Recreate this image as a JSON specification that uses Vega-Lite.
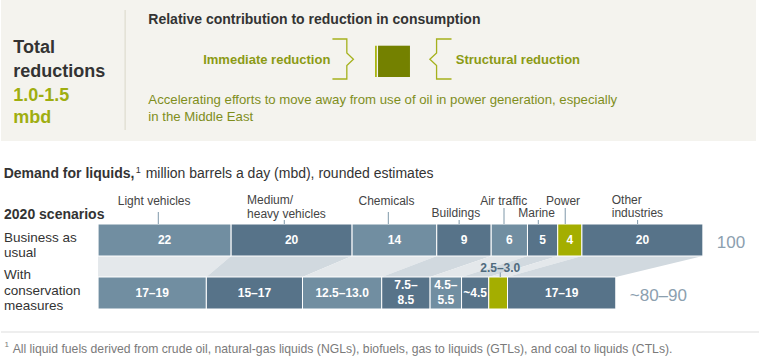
{
  "$schema": "https://vega.github.io/schema/vega-lite/v6.json",
  "width": 760,
  "height": 360,
  "autosize": {"type": "fit", "contains": "padding"},
  "padding": 0,
  "background": "#ffffff",
  "config": {"view": {"stroke": null}, "font": "Liberation Sans", "text": {"font": "Liberation Sans"}},
  "datasets": {
    "seg": [
      {"scenario": "Business as usual", "sector": "Light vehicles", "order": 1, "value": 22, "label": "22", "label2": ""},
      {"scenario": "Business as usual", "sector": "Medium/heavy vehicles", "order": 2, "value": 20, "label": "20", "label2": ""},
      {"scenario": "Business as usual", "sector": "Chemicals", "order": 3, "value": 14, "label": "14", "label2": ""},
      {"scenario": "Business as usual", "sector": "Buildings", "order": 4, "value": 9, "label": "9", "label2": ""},
      {"scenario": "Business as usual", "sector": "Air traffic", "order": 5, "value": 6, "label": "6", "label2": ""},
      {"scenario": "Business as usual", "sector": "Marine", "order": 6, "value": 5, "label": "5", "label2": ""},
      {"scenario": "Business as usual", "sector": "Power", "order": 7, "value": 4, "label": "4", "label2": ""},
      {"scenario": "Business as usual", "sector": "Other industries", "order": 8, "value": 20, "label": "20", "label2": ""},
      {"scenario": "With conservation measures", "sector": "Light vehicles", "order": 1, "value": 17.9, "label": "17–19", "label2": ""},
      {"scenario": "With conservation measures", "sector": "Medium/heavy vehicles", "order": 2, "value": 15.9, "label": "15–17", "label2": ""},
      {"scenario": "With conservation measures", "sector": "Chemicals", "order": 3, "value": 13.1, "label": "12.5–13.0", "label2": ""},
      {"scenario": "With conservation measures", "sector": "Buildings", "order": 4, "value": 8.0, "label": "", "label2": "7.5–\n8.5"},
      {"scenario": "With conservation measures", "sector": "Air traffic", "order": 5, "value": 5.2, "label": "", "label2": "4.5–\n5.5"},
      {"scenario": "With conservation measures", "sector": "Marine", "order": 6, "value": 4.5, "label": "~4.5", "label2": ""},
      {"scenario": "With conservation measures", "sector": "Power", "order": 7, "value": 3.1, "label": "", "label2": ""},
      {"scenario": "With conservation measures", "sector": "Other industries", "order": 8, "value": 17.9, "label": "17–19", "label2": ""}
    ]
  },
  "resolve": {"scale": {"y": "independent", "color": "independent"}},
  "layer": [
    {
      "data": {"values": [{"x": -16.05, "x2": 108.79, "y": 0, "y2": 141}]},
      "mark": {"type": "rect", "color": "#f4f3ee"},
      "encoding": {
        "x": {"field": "x", "type": "quantitative", "scale": {"domain": [-16.05, 109.28], "nice": false, "zero": false}, "axis": null},
        "x2": {"field": "x2"},
        "y": {"field": "y", "type": "quantitative", "scale": {"domain": [0, 360], "reverse": true, "nice": false, "zero": false}, "axis": null},
        "y2": {"field": "y2"}
      }
    },
    {
      "data": {"values": [{"x": 4.47, "y": 10, "y2": 130}]},
      "mark": {"type": "rule", "color": "#d9d7c8", "strokeWidth": 1},
      "encoding": {
        "x": {"field": "x", "type": "quantitative", "axis": null},
        "y": {"field": "y", "type": "quantitative", "scale": {"domain": [0, 360], "reverse": true, "nice": false, "zero": false}, "axis": null},
        "y2": {"field": "y2"}
      }
    },
    {
      "data": {"values": [{"t": "Total", "x": -14.02, "y": 53.3}, {"t": "reductions", "x": -14.02, "y": 76.7}]},
      "mark": {"type": "text", "align": "left", "baseline": "alphabetic", "fontSize": 18, "fontWeight": "bold", "color": "#333333"},
      "encoding": {
        "x": {"field": "x", "type": "quantitative", "axis": null},
        "y": {"field": "y", "type": "quantitative", "scale": {"domain": [0, 360], "reverse": true, "nice": false, "zero": false}, "axis": null},
        "text": {"field": "t"}
      }
    },
    {
      "data": {"values": [{"t": "1.0-1.5", "x": -14.02, "y": 100.7}, {"t": "mbd", "x": -14.02, "y": 122.7}]},
      "mark": {"type": "text", "align": "left", "baseline": "alphabetic", "fontSize": 18, "fontWeight": "bold", "color": "#9fae10"},
      "encoding": {
        "x": {"field": "x", "type": "quantitative", "axis": null},
        "y": {"field": "y", "type": "quantitative", "scale": {"domain": [0, 360], "reverse": true, "nice": false, "zero": false}, "axis": null},
        "text": {"field": "t"}
      }
    },
    {
      "data": {"values": [
        {"t": "Relative contribution to reduction in consumption", "x": 8.31, "y": 23.5},
        {"t": "Demand for liquids,", "x": -15.6, "y": 177.5},
        {"t": "2020 scenarios", "x": -15.55, "y": 219}
      ]},
      "mark": {"type": "text", "align": "left", "baseline": "alphabetic", "fontSize": 14, "fontWeight": "bold", "color": "#333333"},
      "encoding": {
        "x": {"field": "x", "type": "quantitative", "axis": null},
        "y": {"field": "y", "type": "quantitative", "scale": {"domain": [0, 360], "reverse": true, "nice": false, "zero": false}, "axis": null},
        "text": {"field": "t"}
      }
    },
    {
      "data": {"values": [{"t": "Immediate reduction", "x": 17.38, "y": 64}, {"t": "Structural reduction", "x": 59.15, "y": 63.5}]},
      "mark": {"type": "text", "align": "left", "baseline": "alphabetic", "fontSize": 13, "fontWeight": "bold", "color": "#8b9a14"},
      "encoding": {
        "x": {"field": "x", "type": "quantitative", "axis": null},
        "y": {"field": "y", "type": "quantitative", "scale": {"domain": [0, 360], "reverse": true, "nice": false, "zero": false}, "axis": null},
        "text": {"field": "t"}
      }
    },
    {
      "data": {"values": [
        {"t": "Accelerating efforts to move away from use of oil in power generation, especially", "x": 8.31, "y": 104},
        {"t": "in the Middle East", "x": 8.31, "y": 120.7}
      ]},
      "mark": {"type": "text", "align": "left", "baseline": "alphabetic", "fontSize": 13.2, "color": "#7f8e1c"},
      "encoding": {
        "x": {"field": "x", "type": "quantitative", "axis": null},
        "y": {"field": "y", "type": "quantitative", "scale": {"domain": [0, 360], "reverse": true, "nice": false, "zero": false}, "axis": null},
        "text": {"field": "t"}
      }
    },
    {
      "data": {"values": [
        {"side": "right", "i": 1, "x": 38.75, "y": 39},
        {"side": "right", "i": 2, "x": 41.13, "y": 39},
        {"side": "right", "i": 3, "x": 41.13, "y": 53},
        {"side": "right", "i": 4, "x": 42.22, "y": 59.3},
        {"side": "right", "i": 5, "x": 41.13, "y": 65.5},
        {"side": "right", "i": 6, "x": 41.13, "y": 79},
        {"side": "right", "i": 7, "x": 38.75, "y": 79},
        {"side": "left", "i": 1, "x": 58.44, "y": 39},
        {"side": "left", "i": 2, "x": 55.97, "y": 39},
        {"side": "left", "i": 3, "x": 55.97, "y": 53},
        {"side": "left", "i": 4, "x": 54.86, "y": 59.3},
        {"side": "left", "i": 5, "x": 55.97, "y": 65.5},
        {"side": "left", "i": 6, "x": 55.97, "y": 79},
        {"side": "left", "i": 7, "x": 58.44, "y": 79}
      ]},
      "mark": {"type": "line", "color": "#a5b11c", "strokeWidth": 1.3},
      "encoding": {
        "x": {"field": "x", "type": "quantitative", "axis": null},
        "y": {"field": "y", "type": "quantitative", "scale": {"domain": [0, 360], "reverse": true, "nice": false, "zero": false}, "axis": null},
        "detail": {"field": "side"},
        "order": {"field": "i", "type": "quantitative"}
      }
    },
    {
      "data": {"values": [
        {"part": "Immediate", "x": 45.8, "x2": 46.08, "y": 45.7, "y2": 77},
        {"part": "Structural", "x": 46.29, "x2": 51.57, "y": 45.7, "y2": 77}
      ]},
      "mark": {"type": "rect"},
      "encoding": {
        "x": {"field": "x", "type": "quantitative", "axis": null},
        "x2": {"field": "x2"},
        "y": {"field": "y", "type": "quantitative", "scale": {"domain": [0, 360], "reverse": true, "nice": false, "zero": false}, "axis": null},
        "y2": {"field": "y2"},
        "color": {"field": "part", "type": "nominal", "scale": {"domain": ["Immediate", "Structural"], "range": ["#a3b000", "#748100"]}, "legend": null}
      }
    },
    {
      "data": {"name": "seg"},
      "mark": {"type": "area", "orient": "horizontal"},
      "encoding": {
        "x": {"field": "value", "type": "quantitative", "stack": "zero", "axis": null},
        "y": {"field": "scenario", "type": "nominal", "scale": {"type": "point", "domain": ["Business as usual", "With conservation measures"], "range": [256, 277], "padding": 0}, "axis": null},
        "detail": {"field": "sector"},
        "order": {"field": "order", "type": "quantitative"},
        "color": {"field": "sector", "type": "nominal", "scale": {"domain": ["Light vehicles", "Medium/heavy vehicles", "Chemicals", "Buildings", "Air traffic", "Marine", "Power", "Other industries"], "range": ["#e4e8eb", "#d1d9df", "#e4e8eb", "#d1d9df", "#e4e8eb", "#d1d9df", "#e4e8eb", "#d1d9df"]}, "legend": null}
      }
    },
    {
      "data": {"name": "seg"},
      "mark": {"type": "bar", "stroke": "#ffffff", "strokeWidth": 1},
      "encoding": {
        "x": {"field": "value", "type": "quantitative", "stack": "zero", "axis": null},
        "y": {"field": "scenario", "type": "nominal", "scale": {"type": "band", "domain": ["Business as usual", "With conservation measures"], "range": [224, 309], "paddingInner": 0.396, "paddingOuter": 0}, "axis": null},
        "order": {"field": "order", "type": "quantitative"},
        "color": {"field": "sector", "type": "nominal", "scale": {"domain": ["Light vehicles", "Medium/heavy vehicles", "Chemicals", "Buildings", "Air traffic", "Marine", "Power", "Other industries"], "range": ["#718ea1", "#577389", "#718ea1", "#577389", "#718ea1", "#577389", "#a4ae00", "#577389"]}, "legend": null}
      }
    },
    {
      "data": {"name": "seg"},
      "mark": {"type": "text", "align": "center", "baseline": "middle", "fontSize": 12, "fontWeight": "bold", "color": "#ffffff"},
      "encoding": {
        "x": {"field": "value", "type": "quantitative", "stack": "zero", "bandPosition": 0.5, "axis": null},
        "y": {"field": "scenario", "type": "nominal", "scale": {"type": "band", "domain": ["Business as usual", "With conservation measures"], "range": [224, 309], "paddingInner": 0.396, "paddingOuter": 0}, "axis": null},
        "detail": {"field": "sector"},
        "order": {"field": "order", "type": "quantitative"},
        "text": {"field": "label"}
      }
    },
    {
      "data": {"name": "seg"},
      "mark": {"type": "text", "align": "center", "baseline": "middle", "fontSize": 12, "fontWeight": "bold", "color": "#ffffff", "lineBreak": "\n", "lineHeight": 15, "dy": -7.5},
      "encoding": {
        "x": {"field": "value", "type": "quantitative", "stack": "zero", "bandPosition": 0.5, "axis": null},
        "y": {"field": "scenario", "type": "nominal", "scale": {"type": "band", "domain": ["Business as usual", "With conservation measures"], "range": [224, 309], "paddingInner": 0.396, "paddingOuter": 0}, "axis": null},
        "detail": {"field": "sector"},
        "order": {"field": "order", "type": "quantitative"},
        "text": {"field": "label2"}
      }
    },
    {
      "data": {"values": [
        {"scenario": "Business as usual", "total": 100, "label": "100"},
        {"scenario": "With conservation measures", "total": 85.6, "label": "~80–90"}
      ]},
      "mark": {"type": "text", "align": "left", "baseline": "middle", "fontSize": 17, "color": "#8ca0af", "dx": 14, "dy": 3},
      "encoding": {
        "x": {"field": "total", "type": "quantitative", "axis": null},
        "y": {"field": "scenario", "type": "nominal", "scale": {"type": "band", "domain": ["Business as usual", "With conservation measures"], "range": [224, 309], "paddingInner": 0.396, "paddingOuter": 0}, "axis": null},
        "text": {"field": "label"}
      }
    },
    {
      "data": {"values": [
        {"t": "Light vehicles", "x": 9.27, "y": 205},
        {"t": "Chemicals", "x": 47.69, "y": 205},
        {"t": "Air traffic", "x": 67.07, "y": 205},
        {"t": "Power", "x": 76.88, "y": 205},
        {"t": "Buildings", "x": 59.15, "y": 217},
        {"t": "Marine", "x": 72.5, "y": 217}
      ]},
      "mark": {"type": "text", "align": "center", "baseline": "alphabetic", "fontSize": 12, "color": "#444444"},
      "encoding": {
        "x": {"field": "x", "type": "quantitative", "axis": null},
        "y": {"field": "y", "type": "quantitative", "scale": {"domain": [0, 360], "reverse": true, "nice": false, "zero": false}, "axis": null},
        "text": {"field": "t"}
      }
    },
    {
      "data": {"values": [
        {"t": "Medium/", "x": 24.64, "y": 204},
        {"t": "heavy vehicles", "x": 24.64, "y": 217.5},
        {"t": "Other", "x": 84.93, "y": 203.5},
        {"t": "industries", "x": 84.93, "y": 217}
      ]},
      "mark": {"type": "text", "align": "left", "baseline": "alphabetic", "fontSize": 12, "color": "#444444"},
      "encoding": {
        "x": {"field": "x", "type": "quantitative", "axis": null},
        "y": {"field": "y", "type": "quantitative", "scale": {"domain": [0, 360], "reverse": true, "nice": false, "zero": false}, "axis": null},
        "text": {"field": "t"}
      }
    },
    {
      "data": {"values": [
        {"x": 9.96, "y": 212, "y2": 224},
        {"x": 30.79, "y": 220, "y2": 224},
        {"x": 47.99, "y": 212, "y2": 224},
        {"x": 59.7, "y": 220, "y2": 224},
        {"x": 67.12, "y": 208, "y2": 224},
        {"x": 72.79, "y": 220, "y2": 224},
        {"x": 77.24, "y": 208, "y2": 224},
        {"x": 89.21, "y": 220, "y2": 224},
        {"x": 66.5, "y": 272.5, "y2": 277}
      ]},
      "mark": {"type": "rule", "color": "#7f98a9", "strokeWidth": 1},
      "encoding": {
        "x": {"field": "x", "type": "quantitative", "axis": null},
        "y": {"field": "y", "type": "quantitative", "scale": {"domain": [0, 360], "reverse": true, "nice": false, "zero": false}, "axis": null},
        "y2": {"field": "y2"}
      }
    },
    {
      "data": {"values": [{"t": "2.5–3.0", "x": 66.5, "y": 271.5}]},
      "mark": {"type": "text", "align": "center", "baseline": "alphabetic", "fontSize": 12, "fontWeight": "bold", "color": "#4f6b7e"},
      "encoding": {
        "x": {"field": "x", "type": "quantitative", "axis": null},
        "y": {"field": "y", "type": "quantitative", "scale": {"domain": [0, 360], "reverse": true, "nice": false, "zero": false}, "axis": null},
        "text": {"field": "t"}
      }
    },
    {
      "data": {"values": [
        {"t": "million barrels a day (mbd), rounded estimates", "x": 7.87, "y": 177.5}
      ]},
      "mark": {"type": "text", "align": "left", "baseline": "alphabetic", "fontSize": 14, "color": "#333333"},
      "encoding": {
        "x": {"field": "x", "type": "quantitative", "axis": null},
        "y": {"field": "y", "type": "quantitative", "scale": {"domain": [0, 360], "reverse": true, "nice": false, "zero": false}, "axis": null},
        "text": {"field": "t"}
      }
    },
    {
      "data": {"values": [
        {"t": "Business as", "x": -15.55, "y": 241.5},
        {"t": "usual", "x": -15.55, "y": 256.5},
        {"t": "With", "x": -15.55, "y": 279},
        {"t": "conservation", "x": -15.55, "y": 294.5},
        {"t": "measures", "x": -15.55, "y": 309.5}
      ]},
      "mark": {"type": "text", "align": "left", "baseline": "alphabetic", "fontSize": 13.5, "color": "#333333"},
      "encoding": {
        "x": {"field": "x", "type": "quantitative", "axis": null},
        "y": {"field": "y", "type": "quantitative", "scale": {"domain": [0, 360], "reverse": true, "nice": false, "zero": false}, "axis": null},
        "text": {"field": "t"}
      }
    },
    {
      "data": {"values": [{"t": "1", "x": 6.22, "y": 173}]},
      "mark": {"type": "text", "align": "left", "baseline": "alphabetic", "fontSize": 9, "color": "#333333"},
      "encoding": {
        "x": {"field": "x", "type": "quantitative", "axis": null},
        "y": {"field": "y", "type": "quantitative", "scale": {"domain": [0, 360], "reverse": true, "nice": false, "zero": false}, "axis": null},
        "text": {"field": "t"}
      }
    },
    {
      "data": {"values": [{"x": -16.05, "x2": 109.28, "y": 332}]},
      "mark": {"type": "rule", "color": "#dddddd", "strokeWidth": 1},
      "encoding": {
        "x": {"field": "x", "type": "quantitative", "axis": null},
        "x2": {"field": "x2"},
        "y": {"field": "y", "type": "quantitative", "scale": {"domain": [0, 360], "reverse": true, "nice": false, "zero": false}, "axis": null}
      }
    },
    {
      "data": {"values": [{"t": "1", "x": -15.47, "y": 346.5}]},
      "mark": {"type": "text", "align": "left", "baseline": "alphabetic", "fontSize": 8, "color": "#7a7a7a"},
      "encoding": {
        "x": {"field": "x", "type": "quantitative", "axis": null},
        "y": {"field": "y", "type": "quantitative", "scale": {"domain": [0, 360], "reverse": true, "nice": false, "zero": false}, "axis": null},
        "text": {"field": "t"}
      }
    },
    {
      "data": {"values": [{"t": "All liquid fuels derived from crude oil, natural-gas liquids (NGLs), biofuels, gas to liquids (GTLs), and coal to liquids (CTLs).", "x": -14.12, "y": 353}]},
      "mark": {"type": "text", "align": "left", "baseline": "alphabetic", "fontSize": 12.2, "color": "#7a7a7a"},
      "encoding": {
        "x": {"field": "x", "type": "quantitative", "axis": null},
        "y": {"field": "y", "type": "quantitative", "scale": {"domain": [0, 360], "reverse": true, "nice": false, "zero": false}, "axis": null},
        "text": {"field": "t"}
      }
    }
  ]
}
